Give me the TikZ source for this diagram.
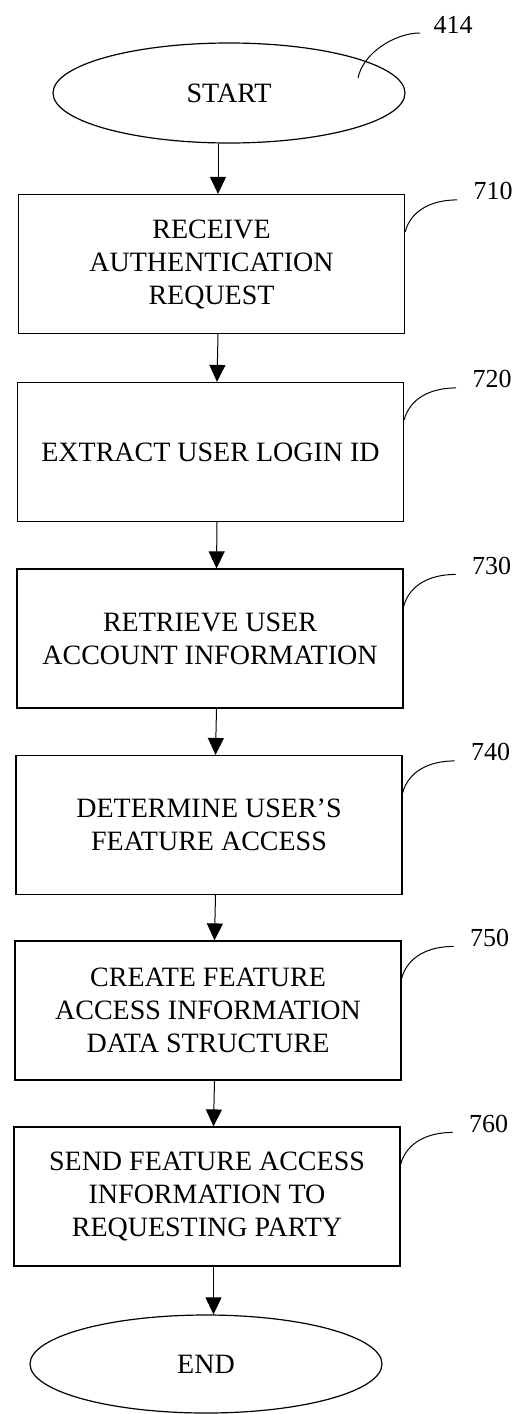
\documentclass[tikz,border=0pt]{standalone}
\usepackage{fontspec}
\setmainfont{Liberation Serif}
\usetikzlibrary{shapes.geometric,arrows.meta}

\tikzset{
  stepbox/.style={draw, line width=1.2pt, minimum width=386pt, minimum height=139pt,
    align=center, inner sep=0pt, font=\fontsize{28}{33}\selectfont},
  termnode/.style={draw, ellipse, line width=1.2pt, minimum width=352pt, minimum height=100pt,
    inner sep=0pt, font=\fontsize{28}{33}\selectfont},
  flow/.style={line width=1pt, -{Triangle[length=17pt,width=16pt]}},
  leader/.style={line width=1pt},
  refnum/.style={anchor=base west, inner sep=0pt, font=\fontsize{26}{30}\selectfont},
}

\begin{document}
\begin{tikzpicture}[x=1pt, y=-1pt]
  \useasboundingbox (0,0) rectangle (514,1414);

  % ============================================
  % Terminals
  % ============================================
  \node[termnode] (start) at (229,93) {START};
  \node[termnode, minimum height=98pt] (finish) at (206,1364) {END};

  % ============================================
  % Process steps
  % ============================================
  \node[stepbox] (r710) at (211.5,264) {RECEIVE\\AUTHENTICATION\\REQUEST};
  \node[stepbox] (r720) at (210.5,452) {EXTRACT USER LOGIN ID};
  \node[stepbox] (r730) at (210,638.5) {RETRIEVE USER\\ACCOUNT INFORMATION};
  \node[stepbox] (r740) at (209,825) {DETERMINE USER’S\\FEATURE ACCESS};
  \node[stepbox] (r750) at (208,1010.5) {CREATE FEATURE\\ACCESS INFORMATION\\DATA STRUCTURE};
  \node[stepbox] (r760) at (207,1196.5) {SEND FEATURE ACCESS\\INFORMATION TO\\REQUESTING PARTY};

  % Arrows between steps
  \draw[flow] ([xshift=-11pt]start.south) -- ([xshift=6.5pt]r710.north);
  \foreach \a/\b in {r710/r720, r720/r730, r730/r740, r740/r750, r750/r760} {
    \draw[flow] ([xshift=6.5pt]\a.south) -- ([xshift=6.5pt]\b.north);
  }
  \draw[flow] ([xshift=6.5pt]r760.south) -- ([xshift=7.5pt]finish.north);

  % Reference numerals with leader curves
  \draw[leader] ([xshift=129pt,yshift=15pt]start.center)
    .. controls +(5,-25) and +(-25,0) .. ++(62,-45)
    node[refnum, xshift=13pt] (n414) {414};
  \foreach \s in {710,720,730,740,750,760} {
    \draw[leader] ([yshift=-38pt]r\s.north east)
      .. controls +(6,-22) and +(-25,0) .. ++(52,-32)
      node[refnum, xshift=16pt] (n\s) {\s};
  }

\end{tikzpicture}
\end{document}
